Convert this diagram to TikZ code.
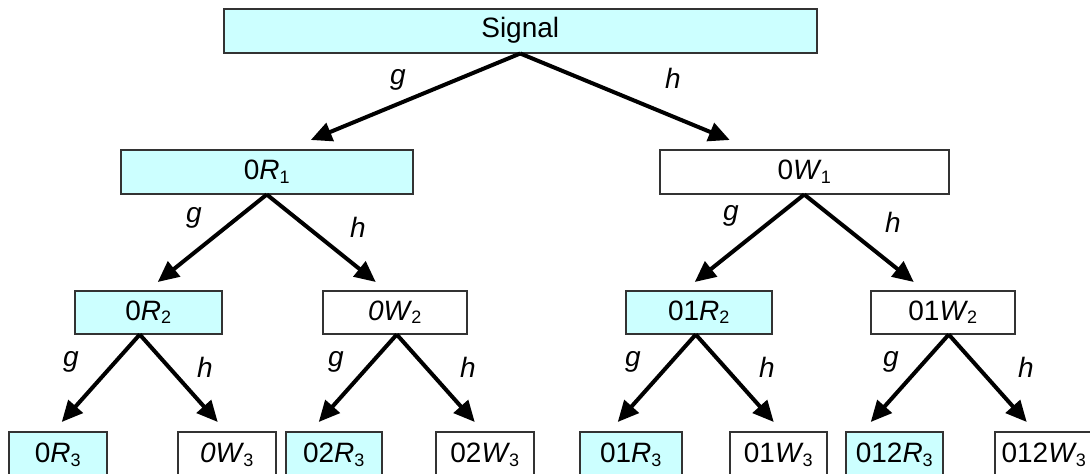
\documentclass[tikz,border=0pt]{standalone}
\usepackage{fontspec}
\setmainfont{Liberation Sans}
\usetikzlibrary{arrows.meta}

\definecolor{boxcyan}{RGB}{204,255,255}
\newcommand\lowsub[1]{\raisebox{-.12em}{\fontsize{18}{20}\selectfont #1}}

\begin{document}
\begin{tikzpicture}[x=1pt, y=-1pt,
  every node/.style={font=\fontsize{28}{32}\selectfont},
  cbox/.style={draw=black!80, line width=1.5pt, fill=boxcyan, anchor=north west, inner sep=0pt},
  wbox/.style={cbox, fill=white},
  arr/.style={line width=4pt, -{Triangle[length=21pt,width=19pt]}},
  lbl/.style={inner sep=0pt, font=\fontsize{28}{32}\selectfont\itshape}]

\useasboundingbox (0,0) rectangle (1090,474);

% Wurzel
\node[cbox, minimum width=593pt, minimum height=44pt] (sig) at (223,8) {Signal};

% Ebene 1
\node[cbox, minimum width=292pt, minimum height=44pt] (r1) at (120,149) {0\textit{R}\lowsub{1}};
\node[wbox, minimum width=289pt, minimum height=44pt] (w1) at (659,149) {0\textit{W}\kern-1pt\lowsub{1}};

% Ebene 2
\node[cbox, minimum width=147pt, minimum height=43pt] (r2) at (74,290) {0\textit{R}\lowsub{2}};
\node[wbox, minimum width=144pt, minimum height=43pt] (w2) at (322,290) {\textit{0W}\kern-1pt\lowsub{2}};
\node[cbox, minimum width=146pt, minimum height=43pt] (r12) at (625,290) {01\textit{R}\lowsub{2}};
\node[wbox, minimum width=144pt, minimum height=43pt] (w12) at (870,290) {01\textit{W}\kern-1pt\lowsub{2}};

% Ebene 3
\node[cbox, minimum width=98pt, minimum height=46pt] (r3) at (8,431) {0\textit{R}\lowsub{3}};
\node[wbox, minimum width=98pt, minimum height=46pt] (w3) at (177,431) {\textit{0W}\kern-1pt\lowsub{3}};
\node[cbox, minimum width=96pt, minimum height=46pt] (r23) at (285,431) {02\textit{R}\lowsub{3}};
\node[wbox, minimum width=98pt, minimum height=46pt] (w23) at (435,431) {02\textit{W}\kern-1pt\lowsub{3}};
\node[cbox, minimum width=102pt, minimum height=46pt] (r13) at (579,431) {01\textit{R}\lowsub{3}};
\node[wbox, minimum width=97pt, minimum height=46pt] (w13) at (729,431) {01\textit{W}\kern-1pt\lowsub{3}};
\node[cbox, minimum width=97pt, minimum height=46pt] (r123) at (845,431) {012\textit{R}\lowsub{3}};
\node[wbox, minimum width=98pt, minimum height=46pt] (w123) at (994,431) {012\textit{W}\kern-1pt\lowsub{3}};

% Pfeile
\draw[arr] (sig.south) -- ([xshift=44pt, yshift=9pt]r1.north);
\draw[arr] (sig.south) -- ([xshift=-74.5pt, yshift=9pt]w1.north);

\draw[arr] (r1.south) -- ([xshift=9.5pt, yshift=8pt]r2.north);
\draw[arr] (r1.south) -- ([xshift=-19pt, yshift=8pt]w2.north);
\draw[arr] (w1.south) -- ([xshift=-4pt, yshift=8pt]r12.north);
\draw[arr] (w1.south) -- ([xshift=-29pt, yshift=8pt]w12.north);

\draw[arr] ([xshift=-8.5pt]r2.south) -- ([xshift=4pt, yshift=9pt]r3.north);
\draw[arr] ([xshift=-8.5pt]r2.south) -- ([xshift=-9pt, yshift=9pt]w3.north);
\draw[arr] ([xshift=2pt]w2.south) -- ([xshift=-15pt, yshift=9pt]r23.north);
\draw[arr] ([xshift=2pt]w2.south) -- ([xshift=-10pt, yshift=9pt]w23.north);
\draw[arr] ([xshift=-3pt]r12.south) -- ([xshift=-13pt, yshift=9pt]r13.north);
\draw[arr] ([xshift=-3pt]r12.south) -- ([xshift=-4.5pt, yshift=9pt]w13.north);
\draw[arr] ([xshift=6pt]w12.south) -- ([xshift=-23.5pt, yshift=9pt]r123.north);
\draw[arr] ([xshift=6pt]w12.south) -- ([xshift=-17pt, yshift=9pt]w123.north);

% Beschriftungen
\node[lbl] (g0) at (398,80) {g};
\node[lbl] (h0) at (673,78) {h};

\node[lbl] (g1) at (194,218) {g};
\node[lbl] (h1) at (358,227) {h};
\node[lbl] (g11) at (731,216) {g};
\node[lbl] (h11) at (893,222) {h};

\node[lbl] (g2) at (71,362) {g};
\node[lbl] (h2) at (205,367) {h};
\node[lbl] (g22) at (336,362) {g};
\node[lbl] (h22) at (468,367) {h};
\node[lbl] (g12) at (633,362) {g};
\node[lbl] (h12) at (767,367) {h};
\node[lbl] (g122) at (891,362) {g};
\node[lbl] (h122) at (1026,367) {h};

\end{tikzpicture}
\end{document}
